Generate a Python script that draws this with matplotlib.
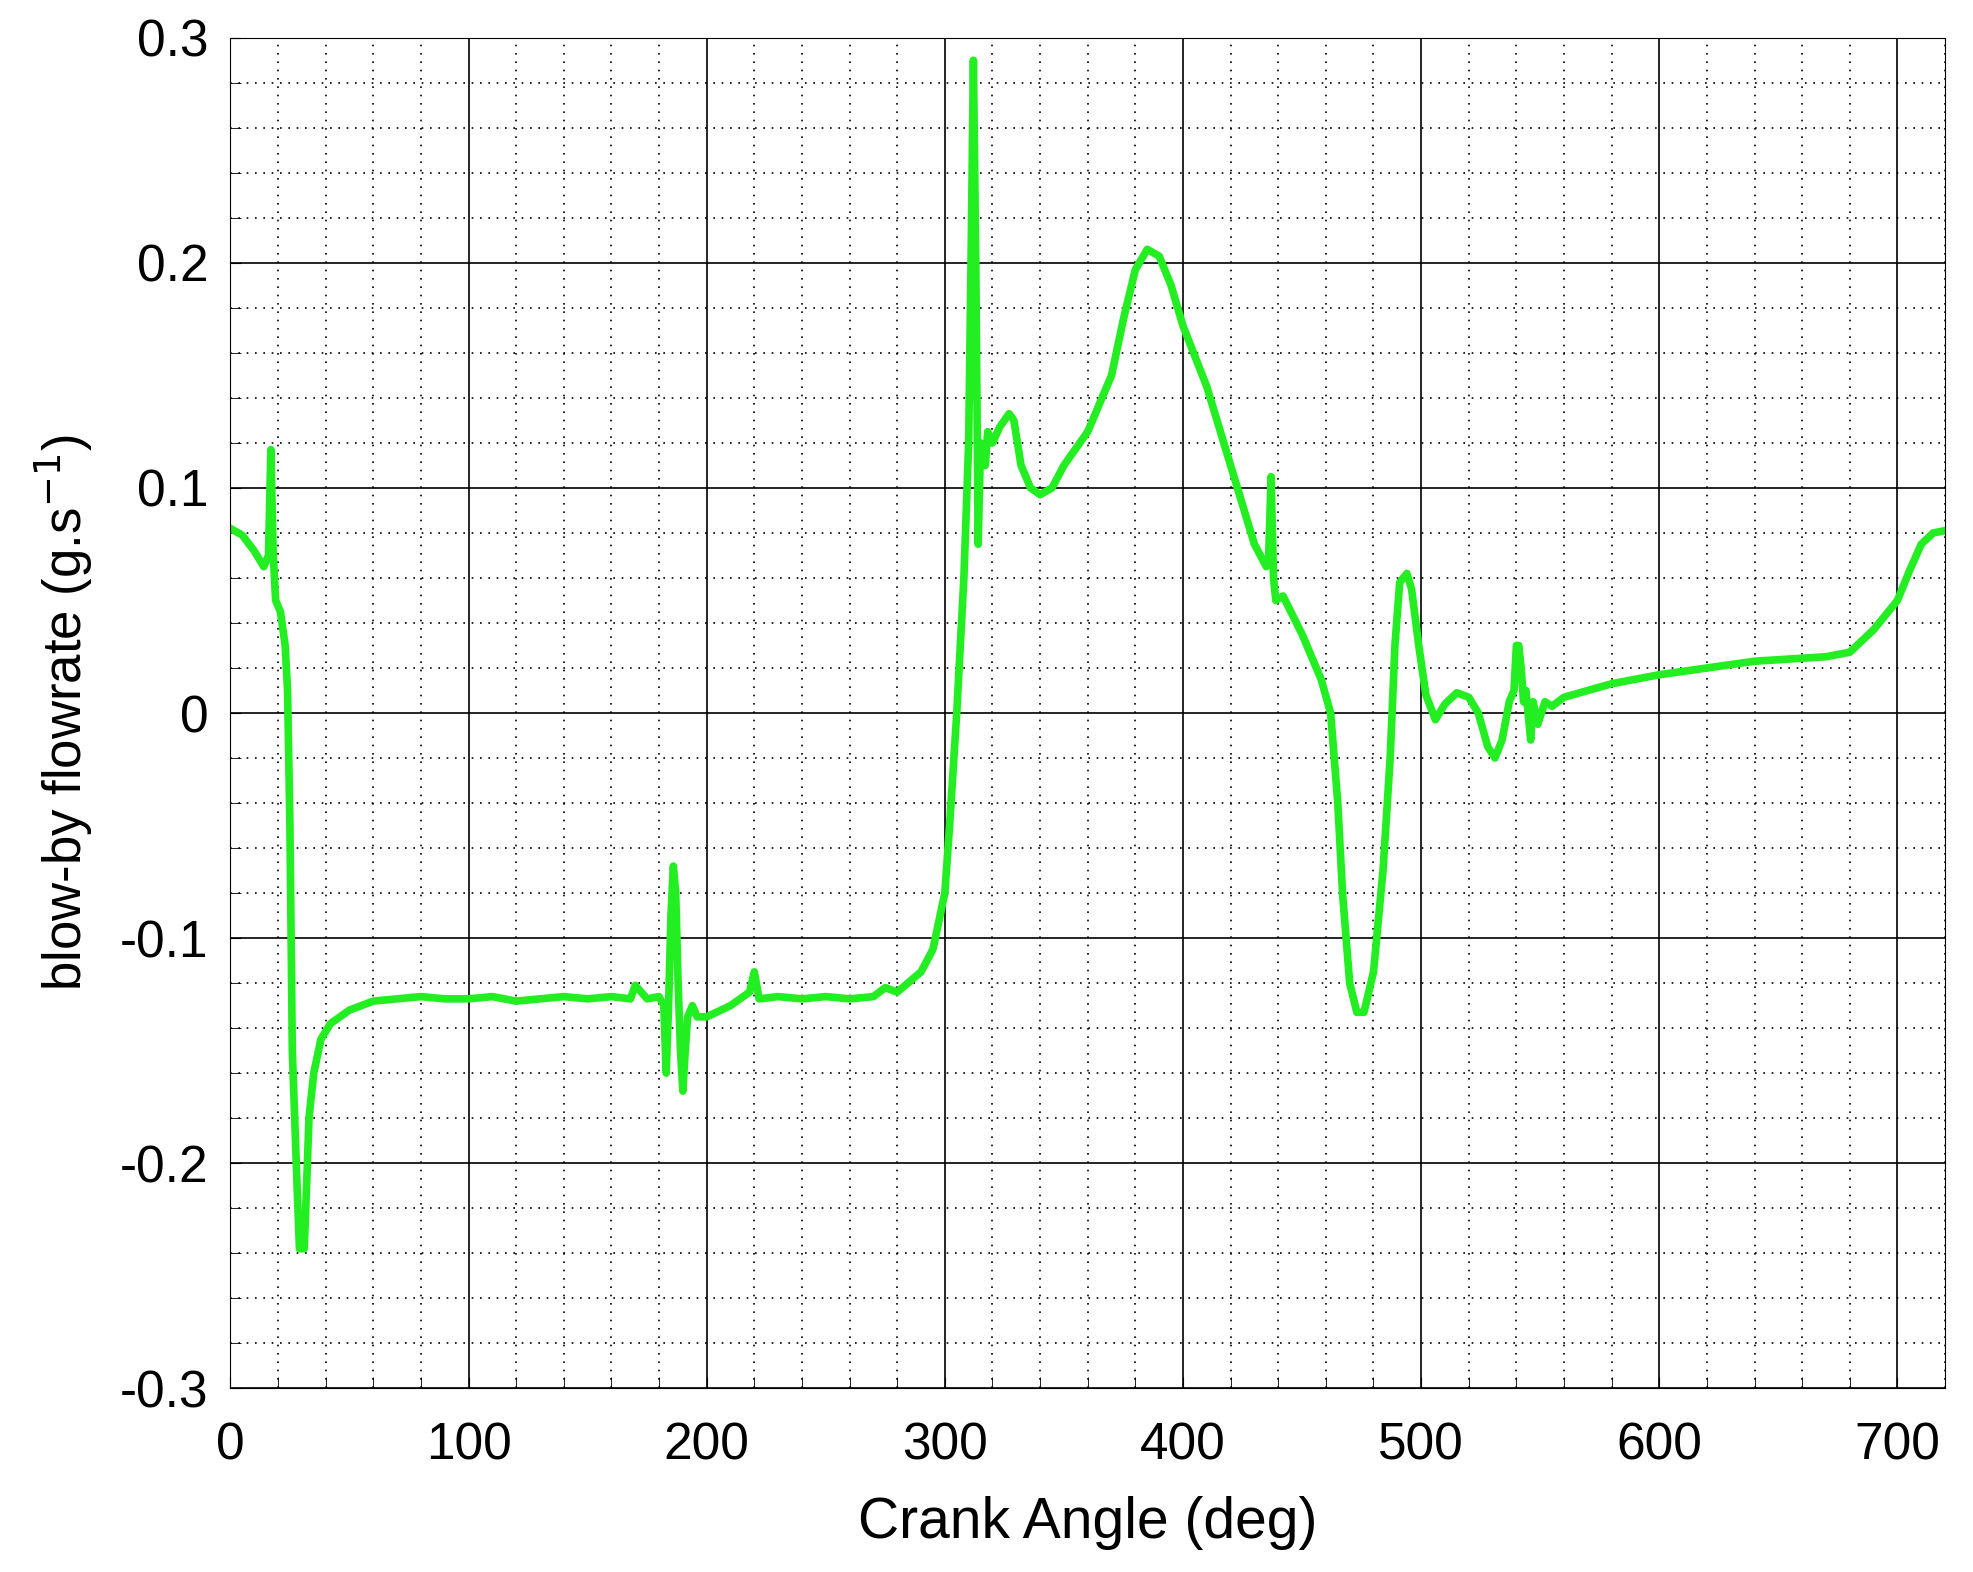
import matplotlib
matplotlib.use("Agg")
import matplotlib.pyplot as plt
from matplotlib.ticker import MultipleLocator, FuncFormatter

angle = [0,5,10,14,16,17,18,19,21,23,24,25,26,28,29,31,32,33,35,38,42,50,60,
         70,80,90,100,110,120,130,140,150,160,168,170,175,180,182,183,184,185,186,187,188,189,190,191,192,194,196,
         200,210,218,220,222,230,240,250,260,270,275,280,290,295,298,300,302,305,308,310,311,312,313,314,315,317,318,320,
         323,327,329,332,336,340,345,350,360,370,375,380,385,390,395,400,410,420,430,435,436,437,438,439,442,
         450,458,462,465,467,470,473,476,480,484,487,489,491,494,496,499,502,506,510,515,520,524,528,531,534,
         537,539,540,541,542,543,544,546,547,549,552,555,560,580,600,640,670,680,690,700,705,710,715,720]
flow = [0.082,0.079,0.072,0.065,0.07,0.117,0.07,0.05,0.045,0.03,0.01,-0.05,-0.15,-0.21,-0.238,-0.238,-0.21,-0.18,-0.16,-0.145,-0.138,-0.132,-0.128,
        -0.127,-0.126,-0.127,-0.127,-0.126,-0.128,-0.127,-0.126,-0.127,-0.126,-0.127,-0.121,-0.127,-0.126,-0.13,-0.16,-0.13,-0.09,-0.068,-0.08,-0.12,-0.15,-0.168,-0.15,-0.135,-0.13,-0.135,
        -0.135,-0.13,-0.124,-0.115,-0.127,-0.126,-0.127,-0.126,-0.127,-0.126,-0.122,-0.124,-0.115,-0.105,-0.09,-0.08,-0.05,0.0,0.06,0.12,0.20,0.29,0.2,0.075,0.12,0.11,0.125,0.12,
        0.127,0.133,0.13,0.11,0.1,0.097,0.1,0.11,0.125,0.15,0.175,0.197,0.206,0.203,0.19,0.172,0.145,0.11,0.075,0.065,0.07,0.105,0.06,0.05,0.052,
        0.035,0.015,0.0,-0.04,-0.08,-0.12,-0.133,-0.133,-0.115,-0.07,-0.02,0.03,0.058,0.062,0.055,0.03,0.008,-0.003,0.004,0.009,0.007,0.0,-0.015,-0.02,-0.012,
        0.005,0.01,0.03,0.03,0.02,0.005,0.01,-0.012,0.005,-0.005,0.005,0.003,0.007,0.013,0.017,0.023,0.025,0.027,0.037,0.05,0.063,0.075,0.08,0.081]

plt.rcParams['font.family'] = ['Liberation Sans', 'DejaVu Sans']
fig = plt.figure(figsize=(19.74, 15.72), dpi=100)
W, H = 1568, 1249
ax = fig.add_axes([183/W, 1-1103/H, 1362/W, 1073/H])
ax.plot(angle, flow, color='#22ee22', lw=5.5)
ax.set_xlim(0, 720)
ax.set_ylim(-0.3, 0.3)
ax.xaxis.set_major_locator(MultipleLocator(100))
ax.xaxis.set_minor_locator(MultipleLocator(20))
ax.yaxis.set_major_locator(MultipleLocator(0.1))
ax.yaxis.set_minor_locator(MultipleLocator(0.02))
ax.yaxis.set_major_formatter(FuncFormatter(lambda v, p: '0' if abs(v) < 1e-9 else ('%.1f' % v)))
ax.grid(which='major', color='black', lw=1.2)
ax.grid(which='minor', color='black', lw=1.2, linestyle=(0, (1, 4)))
ax.tick_params(which='both', direction='in', labelsize=37, length=8)
ax.tick_params(axis='x', which='major', pad=24)
ax.tick_params(axis='y', which='major', pad=16)
ax.set_axisbelow(True)
ax.set_xlabel('Crank Angle (deg)', fontsize=41, labelpad=18)
ax.set_ylabel('blow-by flowrate (g.s$^{-1}$)', fontsize=38, labelpad=18)
fig.savefig('out.png', dpi=100)
